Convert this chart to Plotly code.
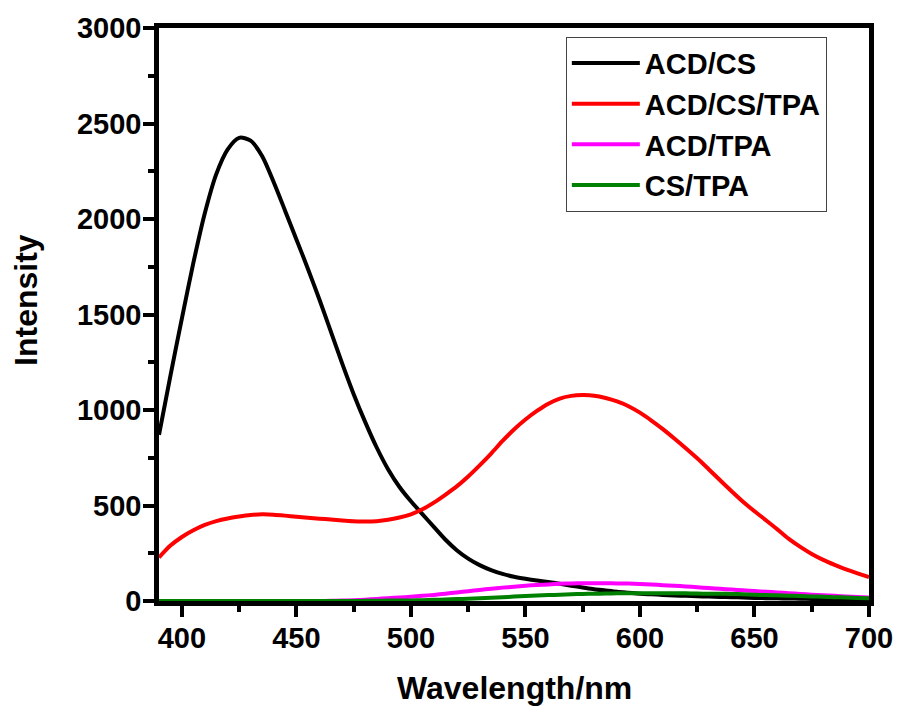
import plotly.graph_objects as go

wavelength = [390, 395, 400, 405, 410, 415, 420, 425, 430, 435, 440, 445, 450, 455, 460,
              465, 470, 475, 480, 485, 490, 495, 500, 505, 510, 515, 520, 525, 530, 535,
              540, 545, 550, 555, 560, 565, 570, 575, 580, 585, 590, 595, 600, 605, 610,
              615, 620, 625, 630, 635, 640, 645, 650, 655, 660, 665, 670, 675, 680, 685,
              690, 695, 700]

acd_cs = [870, 1180, 1480, 1770, 2030, 2235, 2365, 2425, 2410, 2330, 2195, 2045, 1893, 1740, 1580,
          1412, 1243, 1083, 938, 805, 690, 597, 522, 455, 388, 322, 266, 222, 188, 162,
          142, 127, 116, 107, 100, 90, 80, 71, 62, 55, 48, 43, 38, 35, 32,
          29, 27, 25, 23, 21, 20, 18, 16, 15, 14, 13, 12, 11, 10, 10,
          9, 9, 8]

acd_cs_tpa = [228, 290, 335, 370, 398, 418, 432, 442, 450, 454, 452, 447, 441, 436, 431,
              427, 422, 418, 416, 418, 425, 437, 454, 480, 515, 556, 600, 652, 710, 772,
              838, 898, 950, 995, 1033, 1060, 1074, 1078, 1075, 1063, 1045, 1020, 986, 945, 900,
              851, 800, 747, 690, 632, 575, 520, 470, 423, 375, 325, 283, 246, 215, 189,
              165, 145, 125]

acd_tpa = [0, 0, 0, 0, 0, 0, 0, 0, 0, 0, 0, 0, 0, 0, 0,
           1, 2, 4, 7, 11, 15, 18, 22, 27, 32, 38, 45, 51, 58, 64,
           70, 75, 80, 84, 87, 90, 92, 93, 93, 93, 92, 91, 89, 86, 83,
           80, 76, 72, 68, 64, 60, 56, 52, 48, 45, 41, 37, 33, 30, 27,
           24, 21, 18]

cs_tpa = [0, 0, 0, 0, 0, 0, 0, 0, 0, 0, 0, 0, 0, 0, 0,
          0, 0, 0, 1, 1, 2, 2, 3, 4, 6, 8, 10, 12, 15, 17,
          20, 23, 26, 29, 31, 33, 35, 37, 38, 39, 40, 41, 41, 41, 41,
          40, 40, 39, 38, 38, 37, 35, 33, 31, 30, 28, 26, 24, 22, 20,
          18, 16, 14]

series = [("ACD/CS", acd_cs, "#000000"),
          ("ACD/CS/TPA", acd_cs_tpa, "#ff0000"),
          ("ACD/TPA", acd_tpa, "#ff00ff"),
          ("CS/TPA", cs_tpa, "#008000")]

x_ticks = [400, 450, 500, 550, 600, 650, 700]
y_ticks = [0, 500, 1000, 1500, 2000, 2500, 3000]

FONT = "Arial, Liberation Sans, sans-serif"

fig = go.Figure()
for name, vals, col in series:
    fig.add_trace(go.Scatter(x=wavelength, y=vals, name=name, mode="lines",
                             line=dict(color=col, width=4, shape="spline", smoothing=0.8)))

axis_common = dict(
    showline=True, linecolor="black", linewidth=4.5, mirror=True,
    ticks="outside", ticklen=11, tickwidth=4, tickcolor="black",
    showgrid=False, zeroline=False, ticklabelstandoff=-4,
    tickfont=dict(family=FONT, size=29, color="black", weight="bold"),
)

fig.update_xaxes(range=[390, 700], tickvals=x_ticks,
                 minor=dict(ticks="outside", dtick=25, tick0=400, ticklen=6, tickwidth=4, tickcolor="black"),
                 **axis_common)
fig.update_yaxes(range=[0, 3000], tickvals=y_ticks,
                 minor=dict(ticks="outside", dtick=250, tick0=0, ticklen=6, tickwidth=4, tickcolor="black"),
                 **axis_common)

title_font = dict(family=FONT, size=32, color="black", weight="bold")
fig.add_annotation(text="Wavelength/nm", xref="paper", yref="paper", x=0.5, y=-0.152,
                   xanchor="center", yanchor="middle", showarrow=False, font=title_font)
fig.add_annotation(text="Intensity", xref="paper", yref="paper", x=-0.1877, y=0.525,
                   xanchor="center", yanchor="middle", textangle=-90, showarrow=False, font=title_font)

fig.update_layout(
    width=905, height=706,
    margin=dict(l=159, r=32, t=28, b=105),
    paper_bgcolor="white", plot_bgcolor="white",
    showlegend=True,
    legend=dict(x=0.573, y=0.985, xanchor="left", yanchor="top",
                bordercolor="#444444", borderwidth=1, bgcolor="white",
                font=dict(family=FONT, size=29, color="black", weight="bold"),
                itemwidth=68, tracegroupgap=0),
)

fig.write_html("out.html")
